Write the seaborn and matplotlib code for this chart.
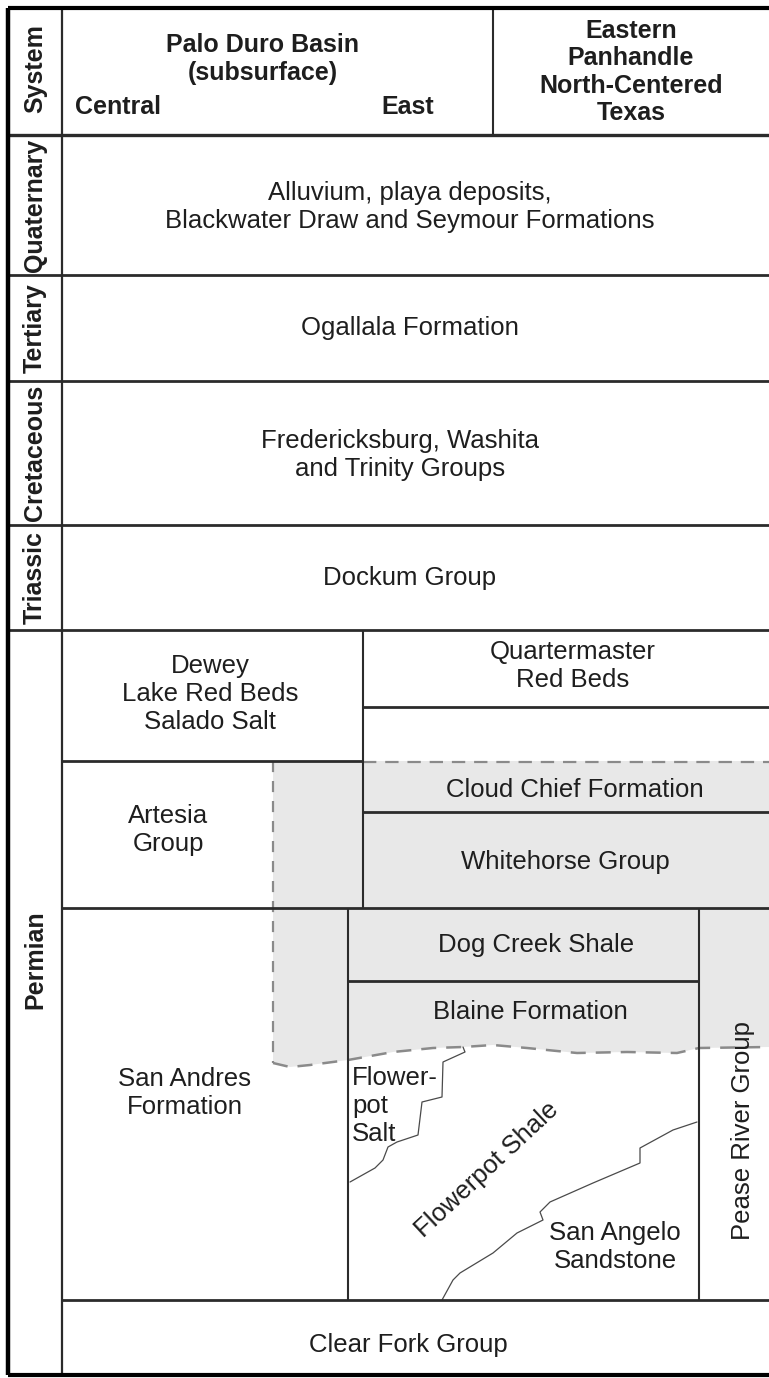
import matplotlib
matplotlib.use("Agg")
import matplotlib.pyplot as plt
import seaborn as sns
from matplotlib.patches import Polygon

# chart frame, in pixels of the 769 x 1378 picture
FRAME_LEFT, SYSTEM_RIGHT, FRAME_RIGHT = 8, 62, 769
FRAME_TOP, HEADER_BOTTOM, FRAME_BOTTOM = 8, 135, 1375
HEADER_SPLIT = 493

# geologic systems (left column)
SYSTEMS = ["Quaternary", "Tertiary", "Cretaceous", "Triassic", "Permian"]
SYSTEM_TOPS = [135, 275, 381, 525, 630]
SYSTEM_BOTTOMS = [275, 381, 525, 630, 1375]

# unit contacts: horizontal (y, x from, x to) and vertical (x, y from, y to)
CONTACT_Y = [275, 381, 525, 630, 707, 761, 812, 908, 981, 1300]
CONTACT_Y_FROM = [8, 8, 8, 8, 363, 62, 363, 62, 348, 62]
CONTACT_Y_TO = [769, 769, 769, 769, 769, 363, 769, 769, 699, 769]
CONTACT_X = [363, 348, 699]
CONTACT_X_FROM = [630, 908, 908]
CONTACT_X_TO = [908, 1300, 1300]

# extent of the shaded (Whitehorse-equivalent) interval
SHADE_LEFT, SHADE_TOP, SHADE_TOP_EAST = 273, 761, 762
WAVY_X = [273, 290, 310, 348, 393, 433, 463, 493, 527, 577, 627, 677, 699, 769]
WAVY_Y = [1063, 1067, 1065, 1060, 1052, 1048, 1047, 1045, 1048, 1053, 1052, 1053, 1048, 1047]

# interfingering contacts
SALT_X = [463, 465, 443, 442, 422, 418, 397, 388, 383, 375, 350]
SALT_Y = [1047, 1052, 1062, 1097, 1102, 1135, 1142, 1147, 1160, 1168, 1182]
ANGELO_X = [697, 673, 640, 640, 593, 550, 540, 543, 517, 493, 460, 453, 442]
ANGELO_Y = [1122, 1130, 1148, 1163, 1183, 1202, 1212, 1220, 1233, 1253, 1273, 1280, 1300]

# unit names and where they are written
UNIT_NAMES = [
    "Alluvium, playa deposits,\nBlackwater Draw and Seymour Formations",
    "Ogallala Formation",
    "Fredericksburg, Washita\nand Trinity Groups",
    "Dockum Group",
    "Dewey\nLake Red Beds\nSalado Salt",
    "Quartermaster\nRed Beds",
    "Cloud Chief Formation",
    "Whitehorse Group",
    "Artesia\nGroup",
    "Dog Creek Shale",
    "Blaine Formation",
    "San Andres\nFormation",
    "San Angelo\nSandstone",
    "Clear Fork Group",
]
UNIT_X = [410, 410, 400, 410, 210, 573, 575, 565, 168, 536, 530, 185, 615, 408]
UNIT_Y = [207, 328, 455, 578, 694, 666, 790, 862, 830, 945, 1012, 1093, 1247, 1345]

LINE = "#2b2b2b"
TEXT = "#1e1e1e"
SHADE = "#e8e8e8"
DASH = "#8a8a8a"

sns.set_theme(style="white")
plt.rcParams["font.family"] = ["Liberation Sans", "DejaVu Sans"]

fig = plt.figure(figsize=(7.69, 13.78), dpi=100)
ax = fig.add_axes([0, 0, 1, 1])
ax.set_xlim(0, 769)
ax.set_ylim(1378, 0)
ax.axis("off")

# shaded interval
shade = [(SHADE_LEFT, SHADE_TOP), (FRAME_RIGHT, SHADE_TOP)]
shade += list(zip(WAVY_X[::-1], WAVY_Y[::-1]))
ax.add_patch(Polygon(shade, closed=True, facecolor=SHADE, edgecolor="none", zorder=1))

# dashed boundaries of the shaded interval
ax.plot([SHADE_LEFT, SHADE_LEFT], [SHADE_TOP, WAVY_Y[0]], color=DASH, lw=1.6,
        ls=(0, (5, 4)), zorder=2)
ax.plot([363, FRAME_RIGHT], [SHADE_TOP_EAST, SHADE_TOP_EAST], color=DASH, lw=1.6,
        ls=(0, (6, 4)), zorder=2)
sns.lineplot(x=WAVY_X, y=WAVY_Y, sort=False, estimator=None, ax=ax, color=DASH,
             lw=1.8, zorder=2).lines[-1].set_linestyle((0, (6, 4)))

# interfingering contacts
for xs, ys in [(SALT_X, SALT_Y), (ANGELO_X, ANGELO_Y)]:
    sns.lineplot(x=xs, y=ys, sort=False, estimator=None, ax=ax, color="#4a4a4a",
                 lw=0.9, zorder=3)

# solid contacts
ax.hlines(CONTACT_Y, CONTACT_Y_FROM, CONTACT_Y_TO, color=LINE, lw=2.0, zorder=4)
ax.vlines(CONTACT_X, CONTACT_X_FROM, CONTACT_X_TO, color=LINE, lw=1.5, zorder=4)
ax.hlines([HEADER_BOTTOM], FRAME_LEFT, FRAME_RIGHT, color=LINE, lw=2.4, zorder=4)
ax.vlines([SYSTEM_RIGHT], FRAME_TOP, FRAME_BOTTOM, color=LINE, lw=1.6, zorder=4)
ax.vlines([HEADER_SPLIT], FRAME_TOP, HEADER_BOTTOM, color=LINE, lw=1.5, zorder=4)
ax.hlines([FRAME_TOP, FRAME_BOTTOM], FRAME_LEFT, FRAME_RIGHT, color="black", lw=3, zorder=5)
ax.vlines([FRAME_LEFT], FRAME_TOP, FRAME_BOTTOM, color="black", lw=3.2, zorder=5)

# header
hdr = dict(fontsize=18, fontweight="bold", color=TEXT, ha="center", va="center")
ax.text((SYSTEM_RIGHT + FRAME_LEFT) / 2, (FRAME_TOP + HEADER_BOTTOM) / 2 - 3, "System",
        rotation=90, **hdr)
ax.text(263, 45, "Palo Duro Basin", **hdr)
ax.text(263, 73, "(subsurface)", **hdr)
ax.text(75, 107, "Central", **{**hdr, "ha": "left"})
ax.text(408, 107, "East", **hdr)
ax.text(631, 72, "Eastern\nPanhandle\nNorth-Centered\nTexas", linespacing=1.17, **hdr)

# systems
for name, top, bottom in zip(SYSTEMS, SYSTEM_TOPS, SYSTEM_BOTTOMS):
    y = (top + bottom) / 2 if name != "Permian" else 960
    ax.text((SYSTEM_RIGHT + FRAME_LEFT) / 2, y, name, rotation=90, **hdr)

# unit labels
body = dict(fontsize=18.5, color=TEXT, ha="center", va="center", linespacing=1.2)
for name, x, y in zip(UNIT_NAMES, UNIT_X, UNIT_Y):
    ax.text(x, y, name, zorder=6, **body)
ax.text(352, 1106, "Flower-\npot\nSalt", zorder=6, **{**body, "ha": "left"})
ax.text(487, 1170, "Flowerpot Shale", rotation=43, zorder=6, **body)
ax.text(743, 1130, "Pease River Group", rotation=90, zorder=6, **body)

fig.savefig("out.png", dpi=100)
